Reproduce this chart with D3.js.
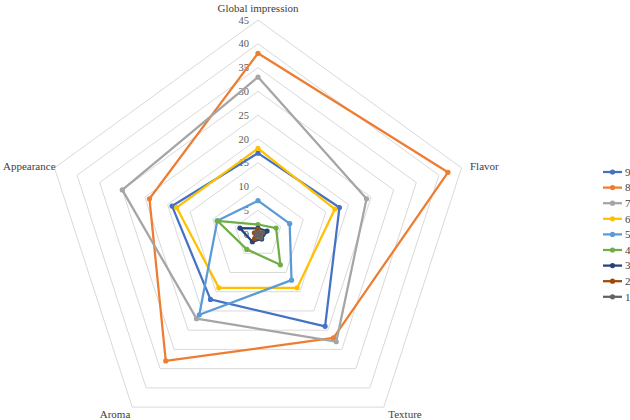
<!DOCTYPE html>
<html>
<head>
<meta charset="utf-8">
<script src="https://cdn.jsdelivr.net/npm/d3@7"></script>
<style>
  body { margin: 0; background: #fff; }
  text { font-family: "Liberation Serif", "Times New Roman", serif; fill: #404040; }
</style>
</head>
<body>
<div id="radar"></div>
<script>
// axes of the radar, clockwise from the top
var axes = ["Global impression", "Flavor", "Texture", "Aroma", "Appearance"];
var ticks = [0, 5, 10, 15, 20, 25, 30, 35, 40, 45];

// one array per sample, values in axis order
var s9 = [17, 18, 24, 17, 19];
var s8 = [38, 42, 27, 33, 24];
var s7 = [33, 24, 28, 22, 30];
var s6 = [18, 17, 14, 14, 18];
var s5 = [7, 7, 12, 21, 9];
var s4 = [2, 4, 8, 4, 9];
var s3 = [1.2, 2, 1.3, 2, 4];
var s2 = [1, 0.5, 0.5, 1.2, 0.8];
var s1 = [0.3, 1, 1, 0.5, 0.3];

var seriesNames = ["9", "8", "7", "6", "5", "4", "3", "2", "1"];
var seriesValues = [s9, s8, s7, s6, s5, s4, s3, s2, s1];
var colors = ["#4472C4", "#ED7D31", "#A5A5A5", "#FFC000", "#5B9BD5",
              "#70AD47", "#264478", "#9E480E", "#636363"];

var width = 630, height = 420,
    cx = 258, cy = 234,
    radius = 214;

var svg = d3.select("#radar").append("svg")
    .attr("width", width)
    .attr("height", height);

var r = d3.scaleLinear().domain([0, 45]).range([0, radius]);

// angle of each axis, top first and going clockwise
var angle = d3.scaleLinear().domain([0, axes.length]).range([0, 2 * Math.PI]);

function point(i, v) {
  var a = angle(i);
  return [cx + r(v) * Math.sin(a), cy - r(v) * Math.cos(a)];
}

// pentagon grid, one ring per tick
svg.append("g").selectAll("path.grid")
    .data(ticks.slice(1))
    .enter().append("path")
    .attr("class", "grid")
    .attr("fill", "none")
    .attr("stroke", "#D9D9D9")
    .attr("stroke-width", 1)
    .attr("d", t => d3.line().curve(d3.curveLinearClosed)(axes.map((a, i) => point(i, t))));

// value labels along the top axis
svg.append("g").selectAll("text.tick")
    .data(ticks)
    .enter().append("text")
    .attr("class", "tick")
    .attr("x", cx - 9)
    .attr("y", t => point(0, t)[1])
    .attr("dy", "0.35em")
    .attr("text-anchor", "end")
    .attr("font-size", 10.5)
    .style("fill", "#595959")
    .text(t => t);

// axis names around the outside
var labelPos = [
  {x: cx, y: 8, anchor: "middle"},
  {x: 470, y: 166, anchor: "start"},
  {x: 405, y: 414, anchor: "middle"},
  {x: 115, y: 414, anchor: "middle"},
  {x: 3, y: 166, anchor: "start"}
];
svg.append("g").selectAll("text.axis")
    .data(axes)
    .enter().append("text")
    .attr("class", "axis")
    .attr("x", (d, i) => labelPos[i].x)
    .attr("y", (d, i) => labelPos[i].y)
    .attr("dy", "0.35em")
    .attr("text-anchor", (d, i) => labelPos[i].anchor)
    .attr("font-size", 11)
    .text(d => d);

// series polygons with small round markers
var line = d3.line().curve(d3.curveLinearClosed);
var series = svg.append("g").selectAll("g.series")
    .data(seriesValues)
    .enter().append("g")
    .attr("class", "series");

series.append("path")
    .attr("fill", "none")
    .attr("stroke", (d, i) => colors[i])
    .attr("stroke-width", 2.25)
    .attr("stroke-linejoin", "round")
    .attr("d", d => line(d.map((v, i) => point(i, v))));

series.each(function(d, k) {
  d3.select(this).selectAll("circle")
      .data(d)
      .enter().append("circle")
      .attr("cx", (v, i) => point(i, v)[0])
      .attr("cy", (v, i) => point(i, v)[1])
      .attr("r", 2.6)
      .attr("fill", colors[k]);
});

// legend on the right
var legend = svg.append("g").selectAll("g.legend")
    .data(seriesNames)
    .enter().append("g")
    .attr("class", "legend")
    .attr("transform", (d, i) => "translate(603," + (172 + i * 15.6) + ")");

legend.append("line")
    .attr("x1", 0).attr("x2", 19)
    .attr("stroke", (d, i) => colors[i])
    .attr("stroke-width", 2.25);

legend.append("circle")
    .attr("cx", 9.5)
    .attr("r", 2.6)
    .attr("fill", (d, i) => colors[i]);

legend.append("text")
    .attr("x", 22)
    .attr("dy", "0.35em")
    .attr("font-size", 11)
    .text(d => d);
</script>
</body>
</html>
